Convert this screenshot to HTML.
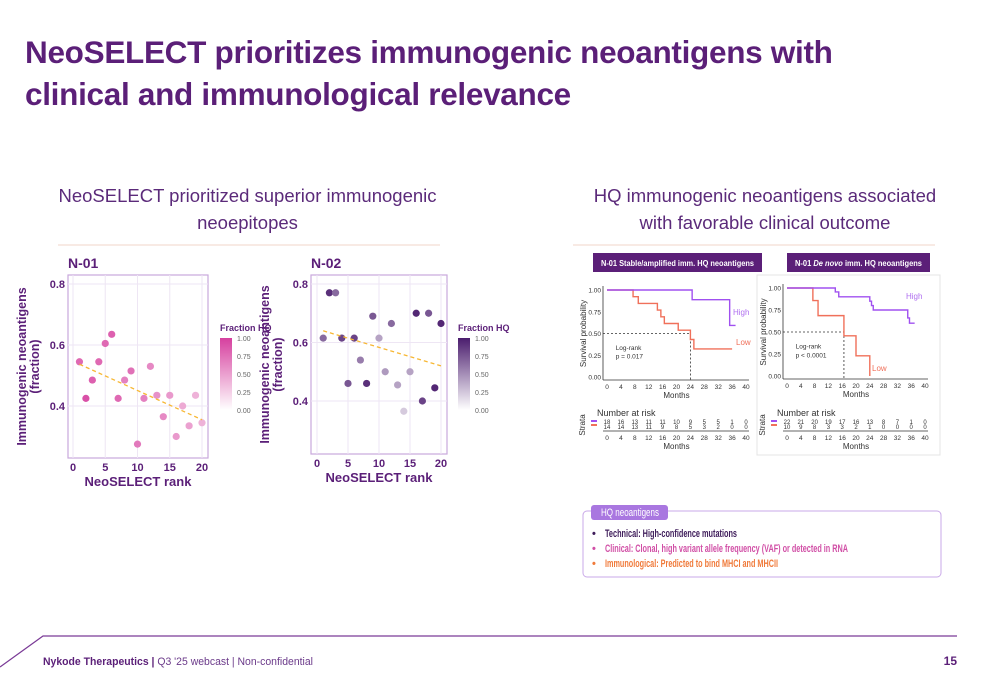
<!DOCTYPE html>
<html><head><meta charset="utf-8">
<style>
body{margin:0;width:1000px;height:685px;overflow:hidden;background:#fff;font-family:"Liberation Sans",sans-serif;position:relative}
.t{position:absolute;margin:0}
</style></head><body>
<h1 class="t" style="left:25px;top:31px;font-size:31.5px;line-height:42px;color:#5b1f78;font-weight:bold;letter-spacing:-0.3px">NeoSELECT prioritizes immunogenic neoantigens with<br>clinical and immunological relevance</h1>
<div class="t" style="left:30px;top:182px;width:435px;text-align:center;font-size:18.5px;line-height:27px;color:#5b2a7a">NeoSELECT prioritized superior immunogenic<br>neoepitopes</div>
<div class="t" style="left:560px;top:182px;width:410px;text-align:center;font-size:18.5px;line-height:27px;color:#5b2a7a">HQ immunogenic neoantigens associated<br>with favorable clinical outcome</div>
<svg id="s" width="1000" height="685" style="position:absolute;left:0;top:0" font-family="Liberation Sans, sans-serif">
<defs>
<linearGradient id="gp" x1="0" y1="1" x2="0" y2="0"><stop offset="0" stop-color="#fff"/><stop offset="1" stop-color="#d6409f"/></linearGradient>
<linearGradient id="gv" x1="0" y1="1" x2="0" y2="0"><stop offset="0" stop-color="#fff"/><stop offset="1" stop-color="#4b1d6e"/></linearGradient>
</defs>
<line x1="58" y1="245" x2="440" y2="245" stroke="#f0d6c8" stroke-width="1"/>
<line x1="573" y1="245" x2="935" y2="245" stroke="#f0d6c8" stroke-width="1"/>
<path d="M0,667 L43,636 L957,636" fill="none" stroke="#7a3a96" stroke-width="1.2"/>
<text x="43" y="665" font-size="11" fill="#5b1f78" textLength="270" lengthAdjust="spacingAndGlyphs"><tspan font-weight="bold">Nykode Therapeutics | </tspan><tspan fill="#6b3a8a">Q3 '25 webcast | Non-confidential</tspan></text>
<text x="957" y="665" font-size="12" font-weight="bold" fill="#5b1f78" text-anchor="end">15</text>
<g id="sc"></g><g id="km"></g>
<rect x="583" y="511" width="358" height="66" rx="4" fill="#fff" stroke="#c9a8e8" stroke-width="1"/>
<rect x="591" y="505" width="77" height="15" rx="3" fill="#a977e0"/>
<text x="601" y="516" font-size="11" fill="#fff" textLength="58" lengthAdjust="spacingAndGlyphs">HQ neoantigens</text>
<g font-size="11" font-weight="bold">
<text x="592" y="537" fill="#3e1c5a">•</text><text x="605" y="537" fill="#3e1c5a" textLength="132" lengthAdjust="spacingAndGlyphs">Technical: High-confidence mutations</text>
<text x="592" y="552" fill="#d14fa6">•</text><text x="605" y="552" fill="#d14fa6" textLength="243" lengthAdjust="spacingAndGlyphs">Clinical: Clonal, high variant allele frequency (VAF) or detected in RNA</text>
<text x="592" y="567" fill="#f07a3a">•</text><text x="605" y="567" fill="#f07a3a" textLength="173" lengthAdjust="spacingAndGlyphs">Immunological: Predicted to bind MHCI and MHCII</text>
</g>
</svg>
<script>
const ranks=[1,2,3,4,5,6,7,8,9,10,11,12,13,14,15,16,17,18,19,20];
const n01Vals=[0.545,0.425,0.485,0.545,0.605,0.635,0.425,0.485,0.515,0.275,0.425,0.53,0.435,0.365,0.435,0.30,0.40,0.335,0.435,0.345];
const n01HQ=[0.75,0.9,0.8,0.75,0.75,0.8,0.75,0.6,0.7,0.65,0.6,0.55,0.5,0.55,0.45,0.45,0.35,0.4,0.3,0.3];
const n01Trend=[0.537,0.355];
const n02Vals=[0.615,0.77,0.77,0.615,0.46,0.615,0.54,0.46,0.69,0.615,0.50,0.665,0.455,0.365,0.50,0.70,0.40,0.70,0.445,0.665];
const n02HQ=[0.6,0.9,0.6,0.8,0.7,0.8,0.5,0.9,0.7,0.3,0.35,0.6,0.3,0.1,0.3,0.95,0.8,0.7,0.95,0.95];
const n02Trend=[0.64,0.52];
const xTicks=[0,5,10,15,20];
const yTicks=[0.4,0.6,0.8];
const legTicks=[0,0.25,0.5,0.75,1];
const kmLHighT=[0,24.5,35.3,37];const kmLHighS=[1,0.889,0.593,0.593];
const kmLLowT=[0,7.5,9,14.5,15.5,16.5,20.5,24,25,36];const kmLLowS=[1,0.923,0.846,0.769,0.692,0.615,0.538,0.431,0.323,0.323];
const kmRHighT=[0,14,15,24,24.5,25,35,35.5,37];const kmRHighS=[1,0.955,0.9,0.85,0.8,0.75,0.66,0.6,0.6];
const kmRLowT=[0,7.5,9,16.5,20,24];const kmRLowS=[1,0.857,0.686,0.457,0.229,0];
const kmTicksX=[0,4,8,12,16,20,24,28,32,36,40];
const kmTicksY=[0,0.25,0.5,0.75,1];
const riskLHigh=[18,16,13,11,11,10,9,5,5,1,0];const riskLLow=[14,14,13,11,9,8,5,3,2,0,0];
const riskRHigh=[22,21,20,19,17,16,13,8,7,1,0];const riskRLow=[10,9,8,3,3,2,1,0,0,0,0];

const NS='http://www.w3.org/2000/svg';
function mk(p,tag,at,txt){const e=document.createElementNS(NS,tag);for(const k in at)e.setAttribute(k,at[k]);if(txt!==undefined)e.textContent=txt;p.appendChild(e);return e;}
function mix(c,t){const a=[255,255,255];return 'rgb('+c.map((v,i)=>Math.round(a[i]+(v-a[i])*t)).join(',')+')';}

function scatter(o){
  const g=mk(document.getElementById('sc'),'g',{});
  
  
  const X=v=>o.x0+(v-0)/20*(o.x20-o.x0), Y=v=>o.y4+(v-0.4)/0.4*(o.y8-o.y4);
  mk(g,'text',{x:o.px,y:268,'font-size':14,'font-weight':'bold',fill:'#5b1f78'},o.title);
  const r=mk(g,'rect',{x:o.px,y:o.py,width:o.pw,height:o.ph,fill:'#fff',stroke:'#c9a8dc','stroke-width':1.2});
  
  xTicks.forEach(t=>{mk(g,'line',{x1:X(t),x2:X(t),y1:o.py,y2:o.py+o.ph,stroke:'#eee6f4'});
    const e=mk(g,'text',{x:X(t),y:o.py+o.ph+13,'font-size':11,'font-weight':'bold',fill:'#5b1f78','text-anchor':'middle'},t);
    });
  yTicks.forEach(t=>{mk(g,'line',{x1:o.px,x2:o.px+o.pw,y1:Y(t),y2:Y(t),stroke:'#eee6f4'});
    const e=mk(g,'text',{x:o.px-3,y:Y(t)+4,'font-size':11,'font-weight':'bold',fill:'#5b1f78','text-anchor':'end'},t.toFixed(1));
    });
  const xl=mk(g,'text',{x:(o.px+o.pw/2),y:o.py+o.ph+28,'font-size':13,'font-weight':'bold',fill:'#5b1f78','text-anchor':'middle'},'NeoSELECT rank');
  
  const cy=o.py+o.ph/2;
  const yl=mk(g,'text',{transform:`translate(${o.px-40},${cy}) rotate(-90)`,'font-size':12.5,'font-weight':'bold',fill:'#5b1f78','text-anchor':'middle'});
  
  mk(yl,'tspan',{x:0,dy:-2},'Immunogenic neoantigens');mk(yl,'tspan',{x:0,dy:13},'(fraction)');
  o.vals.forEach((v,i)=>{const c=mk(g,'circle',{cx:X(ranks[i]),cy:Y(v),r:3.6,fill:mix(o.col,0.15+0.85*o.hq[i])});
    });
  const tl=mk(g,'line',{x1:X(1),y1:Y(o.trend[0]),x2:X(20),y2:Y(o.trend[1]),stroke:'#f7b733','stroke-width':1.3,'stroke-dasharray':'4,3'});
  
  const lg=mk(g,'g',{});
  mk(lg,'text',{x:o.lx,y:331,'font-size':9,'font-weight':'bold',fill:'#5b1f78'},'Fraction HQ');
  mk(lg,'rect',{x:o.lx,y:338,width:12,height:72,fill:o.grad});
  legTicks.forEach(t=>mk(lg,'text',{x:o.lx+17,y:410-t*72+3,'font-size':7,fill:'#666'},t.toFixed(2)));
}
scatter({name:'n01-scatter',title:'N-01',px:68,py:275,pw:140,ph:183,x0:73,x20:202,y4:406,y8:284,vals:n01Vals,hq:n01HQ,trend:n01Trend,col:[214,64,159],grad:'url(#gp)',lx:220});
scatter({name:'n02-scatter',title:'N-02',px:311,py:275,pw:136,ph:179,x0:317,x20:441,y4:401,y8:284,vals:n02Vals,hq:n02HQ,trend:n02Trend,col:[75,29,110],grad:'url(#gv)',lx:458});

function km(o){
  const g=mk(document.getElementById('km'),'g',{});
  
  
  const X=t=>o.x0+t/40*(o.x40-o.x0), Y=s=>o.y0+s*(o.y1-o.y0);
  if(o.border) mk(g,'rect',{x:o.hx-30,y:275,width:183,height:180,fill:'none',stroke:'#e4e4e4'});
  const hb=mk(g,'rect',{x:o.hx,y:253,width:o.hw,height:19,fill:'#5b1f78'});
  
  const ht=mk(g,'text',{x:o.hx+8,y:266,'font-size':8.5,'font-weight':'bold',fill:'#fff',textLength:o.hw-16,lengthAdjust:'spacingAndGlyphs'});
  o.head.forEach(p=>mk(ht,'tspan',p[1]?{'font-style':'italic'}:{},p[0]));
  mk(g,'line',{x1:o.x0-4,x2:o.x0-4,y1:Y(1)-4,y2:Y(0)+3,stroke:'#333','stroke-width':0.8});
  mk(g,'line',{x1:o.x0-4,x2:o.x40+3,y1:Y(0)+3,y2:Y(0)+3,stroke:'#333','stroke-width':0.8});
  kmTicksY.forEach(t=>mk(g,'text',{x:o.x0-6,y:Y(t)+2.5,'font-size':6.5,fill:'#333','text-anchor':'end'},t.toFixed(2)));
  kmTicksX.forEach(t=>{mk(g,'text',{x:X(t),y:Y(0)+12,'font-size':6.5,fill:'#333','text-anchor':'middle'},t);
    mk(g,'text',{x:X(t),y:o.ry+15,'font-size':6.5,fill:'#333','text-anchor':'middle'},t);});
  mk(g,'text',{x:(o.x0+o.x40)/2,y:Y(0)+21,'font-size':8,fill:'#333','text-anchor':'middle'},'Months');
  mk(g,'text',{transform:`translate(${o.x0-21},${(Y(0)+Y(1))/2}) rotate(-90)`,'font-size':8,fill:'#333','text-anchor':'middle'},'Survival probability');
  mk(g,'line',{x1:o.x0-4,y1:Y(0.5),x2:X(o.med),y2:Y(0.5),stroke:'#333','stroke-width':0.8,'stroke-dasharray':'2,2'});
  mk(g,'line',{x1:X(o.med),y1:Y(0.5),x2:X(o.med),y2:Y(0)+3,stroke:'#333','stroke-width':0.8,'stroke-dasharray':'2,2'});
  const step=(T,S)=>{let d='M'+X(T[0])+','+Y(S[0]);for(let i=1;i<T.length;i++)d+=' H'+X(T[i])+' V'+Y(S[i]);return d;};
  const lo=mk(g,'path',{d:step(o.lowT,o.lowS),fill:'none',stroke:'#f0705a','stroke-width':1.4});
  
  const hi=mk(g,'path',{d:step(o.highT,o.highS),fill:'none',stroke:'#a050f0','stroke-width':1.4});
  
  mk(g,'text',{x:o.hlx,y:o.hly,'font-size':8,fill:'#b070f0'},'High');
  mk(g,'text',{x:o.llx,y:o.lly,'font-size':8,fill:'#f0705a'},'Low');
  mk(g,'text',{x:X(2.5),y:Y(0.31),'font-size':6.5,fill:'#333'},'Log-rank');
  mk(g,'text',{x:X(2.5),y:Y(0.21),'font-size':6.5,fill:'#333'},o.p);
  mk(g,'text',{x:o.x0-10,y:o.ry-9,'font-size':9,fill:'#333'},'Number at risk');
  mk(g,'text',{transform:`translate(${o.x0-22},${o.ry}) rotate(-90)`,'font-size':8,fill:'#333','text-anchor':'middle'},'Strata');
  mk(g,'rect',{x:o.x0-16,y:o.ry-5,width:6,height:2,fill:'#a050f0'});
  mk(g,'rect',{x:o.x0-16,y:o.ry-1,width:6,height:2,fill:'#f0705a'});
  mk(g,'line',{x1:o.x0-4,x2:o.x40+3,y1:o.ry+6,y2:o.ry+6,stroke:'#333','stroke-width':0.8});
  o.rh.forEach((v,i)=>mk(g,'text',{x:X(kmTicksX[i]),y:o.ry-1,'font-size':6,fill:'#333','text-anchor':'middle'},v));
  o.rl.forEach((v,i)=>mk(g,'text',{x:X(kmTicksX[i]),y:o.ry+4,'font-size':6,fill:'#333','text-anchor':'middle'},v));
  mk(g,'text',{x:(o.x0+o.x40)/2,y:o.ry+24,'font-size':8,fill:'#333','text-anchor':'middle'},'Months');
}
km({name:'km-stable-amplified',hx:593,hw:169,head:[['N-01 Stable/amplified imm. HQ neoantigens']],x0:607,x40:746,y1:290,y0:377,med:24,
  highT:kmLHighT,highS:kmLHighS,lowT:kmLLowT,lowS:kmLLowS,hlx:733,hly:315,llx:736,lly:345,p:'p = 0.017',ry:425,rh:riskLHigh,rl:riskLLow});
km({name:'km-de-novo',border:true,hx:787,hw:143,head:[['N-01 '],['De novo',1],[' imm. HQ neoantigens']],x0:787,x40:925,y1:288,y0:376,med:16.5,
  highT:kmRHighT,highS:kmRHighS,lowT:kmRLowT,lowS:kmRLowS,hlx:906,hly:299,llx:872,lly:371,p:'p < 0.0001',ry:425,rh:riskRHigh,rl:riskRLow});
</script>
</body></html>
